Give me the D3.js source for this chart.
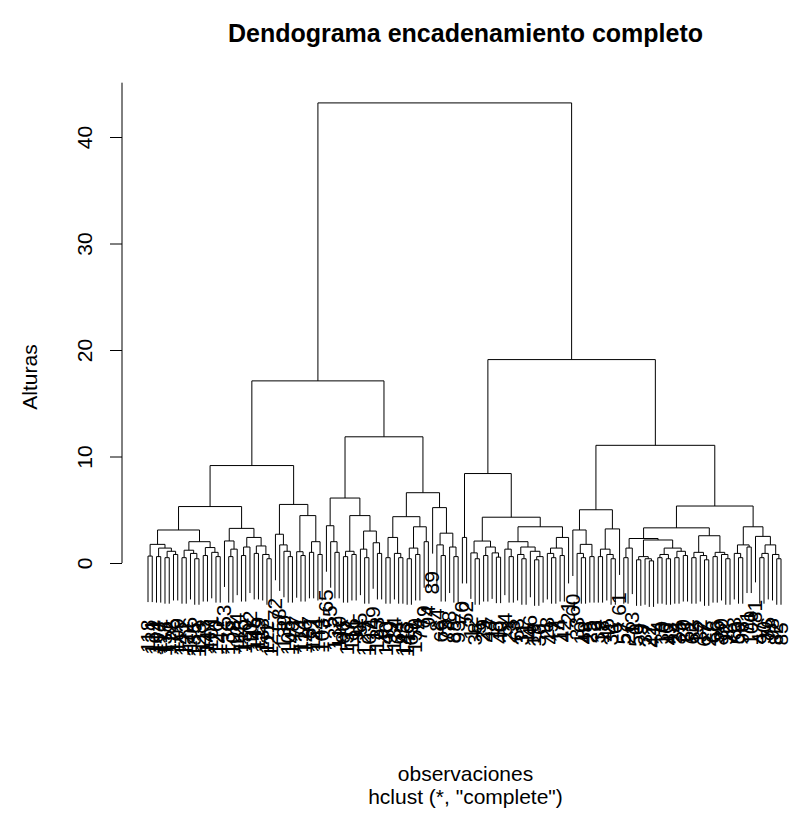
<!DOCTYPE html>
<html>
<head>
<meta charset="utf-8">
<script src="https://cdn.jsdelivr.net/npm/d3@7"></script>
<style>
body { margin: 0; background: #fff; }
text { font-family: "Liberation Sans", Arial, sans-serif; fill: #000; }
</style>
</head>
<body>
<svg id="chart" width="792" height="829"></svg>
<script>
var clusterA = [5.3,
  [3.1,
    [1.75, [0.65, 118, 131], [1.4, [0.6, 104, 117], [1.1, [0.5, 138, 112], [0.8, 125, 109]]]],
    [2.0, [1.2, [0.5, 141, 122], [0.9, 106, [0.4, 135, 128]]], [1.45, [0.7, 113, 147], [1.0, 101, [0.6, 120, 142]]]]],
  [3.25,
    [2.07, 53, [1.3, [0.6, 136, 108], 124]],
    [2.4, [1.5, [0.7, 115, 130], 102], [1.6, [0.9, 145, 119], [0.8, 133, [0.4, 111, 127]]]]]];
var clusterB = [5.5,
  [2.7, 72, [1.7, 58, [1.1, 139, [0.6, 105, 148]]]],
  [4.45, [1.06, 77, [0.7, 114, 126]], [2.0, [1.0, 87, 121], [0.8, 144, 103]]]];
var clusterC = [6.1,
  [3.5, 65, [2.0, 55, [1.0, 132, 110]]],
  [4.45, [1.1, [0.6, 86, 137], [0.8, 116, 91]], [3.0, [1.3, 95, [0.5, 129, 107]], [1.9, 149, [0.9, 123, 97]]]]];
var clusterD = [6.6,
  [4.35, [2.4, [0.5, 140, 99], [0.9, 134, [0.5, 64, 143]]], [3.4, [1.4, [0.4, 146, 69], [0.8, 150, 74]], [2.0, 79, 94]]],
  [5.2, 89, [2.8, [1.7, 84, [0.7, 66, 73]], [1.5, 78, [0.6, 88, 93]]]]];
var clusterE = [8.4,
  [2.4, 70, 52],
  [4.3,
    [2.06, [0.95, 12, [0.4, 38, 5]], [1.5, [0.7, 29, 44], [0.95, 17, [0.55, 8, 40]]]],
    [3.4,
      [2.0, [1.3, 54, [0.6, 23, 3]], [1.5, [0.8, 63, [0.4, 31, 11]], [1.1, 46, [0.6, [0.3, 19, 36], 1]]]],
      [2.4, [1.4, [0.9, 28, [0.5, 49, 7]], [0.7, 14, 42]], 21]]]];
var clusterF = [5.0,
  [3.1, 60, [1.75, [0.9, 33, [0.5, 10, 48]], [0.6, 25, 2]]],
  [3.2, [1.3, [0.6, 39, 18], [0.8, 45, [0.4, 34, 6]]], 61]];
var clusterG = [3.3,
  [2.3, [1.4, [0.5, 57, 26], 13],
    [2.16, [0.6, [0.3, 50, 9], [0.4, 37, [0.2, 22, 41]]],
      [1.4, [0.8, [0.5, 4, 30], [0.4, 16, 43]], [1.1, [0.5, 24, 35], [0.7, 20, 51]]]]],
  [2.56, [1.0, [0.5, 62, 15], [0.7, 32, [0.3, 67, 27]]], [1.0, [0.6, 68, 56], [0.8, 80, [0.4, 92, 75]]]]];
var clusterH = [3.4,
  [1.7, [0.9, 83, [0.5, 59, 96]], [1.5, 71, 100]],
  [2.5, 81, [1.7, [0.9, [0.5, 47, 90], 76], [0.8, 98, [0.4, 82, 85]]]]];
// heights of the upper merges: root, left, left-a, left-b, right, right-b, right-b-b
var topHeights = [43.2, 17.1, 9.15, 11.85, 19.1, 11.05, 5.35];
var yTicks = [0, 10, 20, 30, 40];

var tree = [topHeights[0],
  [topHeights[1], [topHeights[2], clusterA, clusterB], [topHeights[3], clusterC, clusterD]],
  [topHeights[4], clusterE, [topHeights[5], clusterF, [topHeights[6], clusterG, clusterH]]]];

function toNode(a) {
  if (Array.isArray(a)) return { h: a[0], children: [toNode(a[1]), toNode(a[2])] };
  return { label: a };
}

var svg = d3.select("#chart");
var root = d3.hierarchy(toNode(tree));
var leaves = root.leaves();
var hang = 0.1 * root.data.h;
var fontSize = 21;

var x = d3.scaleLinear().domain([1, leaves.length]).range([148, 781]);
var y = d3.scaleLinear().domain([0, 40]).range([563, 137]);

leaves.forEach(function(d, i) { d.x = x(i + 1); });
root.eachAfter(function(d) {
  if (d.children) d.x = (d.children[0].x + d.children[1].x) / 2;
});
root.each(function(d) {
  d.top = d.children ? d.data.h : d.parent.data.h - hang;
});

var internals = root.descendants().filter(function(d) { return d.children; });

svg.append("g")
  .selectAll("path")
  .data(internals)
  .enter()
  .append("path")
  .attr("fill", "none")
  .attr("stroke", "#000")
  .attr("stroke-width", 1)
  .attr("d", function(d) {
    var l = d.children[0], r = d.children[1];
    return "M" + l.x + "," + y(l.top) + "V" + y(d.data.h) + "H" + r.x + "V" + y(r.top);
  });

// labels sit one "m" width below the end of each leaf, like plot.hclust
var labelGap = 0.833 * fontSize;
svg.append("g")
  .selectAll("text")
  .data(leaves)
  .enter()
  .append("text")
  .attr("transform", function(d) { return "translate(" + d.x + "," + (y(d.top) + labelGap) + ") rotate(-90)"; })
  .attr("text-anchor", "end")
  .attr("dy", "0.32em")
  .style("font-size", fontSize + "px")
  .text(function(d) { return d.data.label; });

// y axis
var axisX = 122;
var plotTop = root.data.h + 0.04 * (root.data.h + hang);
var ax = svg.append("g")
  .attr("transform", "translate(" + axisX + ",0)")
  .call(d3.axisLeft(y).tickValues(yTicks).tickSize(12).tickFormat(d3.format("d")));
ax.select(".domain").remove();
ax.append("line")
  .attr("y1", y(0)).attr("y2", y(plotTop))
  .attr("stroke", "#000");
ax.selectAll(".tick line").attr("stroke", "#000");
ax.selectAll(".tick text")
  .attr("transform", "rotate(-90)")
  .attr("x", 0).attr("y", -30).attr("dy", 0)
  .attr("text-anchor", "middle")
  .style("font-size", fontSize + "px")
  .style("font-family", "Liberation Sans, Arial, sans-serif")
  .attr("fill", "#000");

var cx = (x.range()[0] + x.range()[1]) / 2 + 1;
svg.append("text")
  .attr("x", cx).attr("y", 42)
  .attr("text-anchor", "middle")
  .style("font-size", "25px").style("font-weight", "bold")
  .text("Dendograma encadenamiento completo");
svg.append("text")
  .attr("x", cx).attr("y", 781)
  .attr("text-anchor", "middle")
  .style("font-size", fontSize + "px")
  .text("observaciones");
svg.append("text")
  .attr("x", cx).attr("y", 804)
  .attr("text-anchor", "middle")
  .style("font-size", fontSize + "px")
  .text('hclust (*, "complete")');
svg.append("text")
  .attr("transform", "translate(37,377) rotate(-90)")
  .attr("text-anchor", "middle")
  .style("font-size", fontSize + "px")
  .text("Alturas");
</script>
</body>
</html>
